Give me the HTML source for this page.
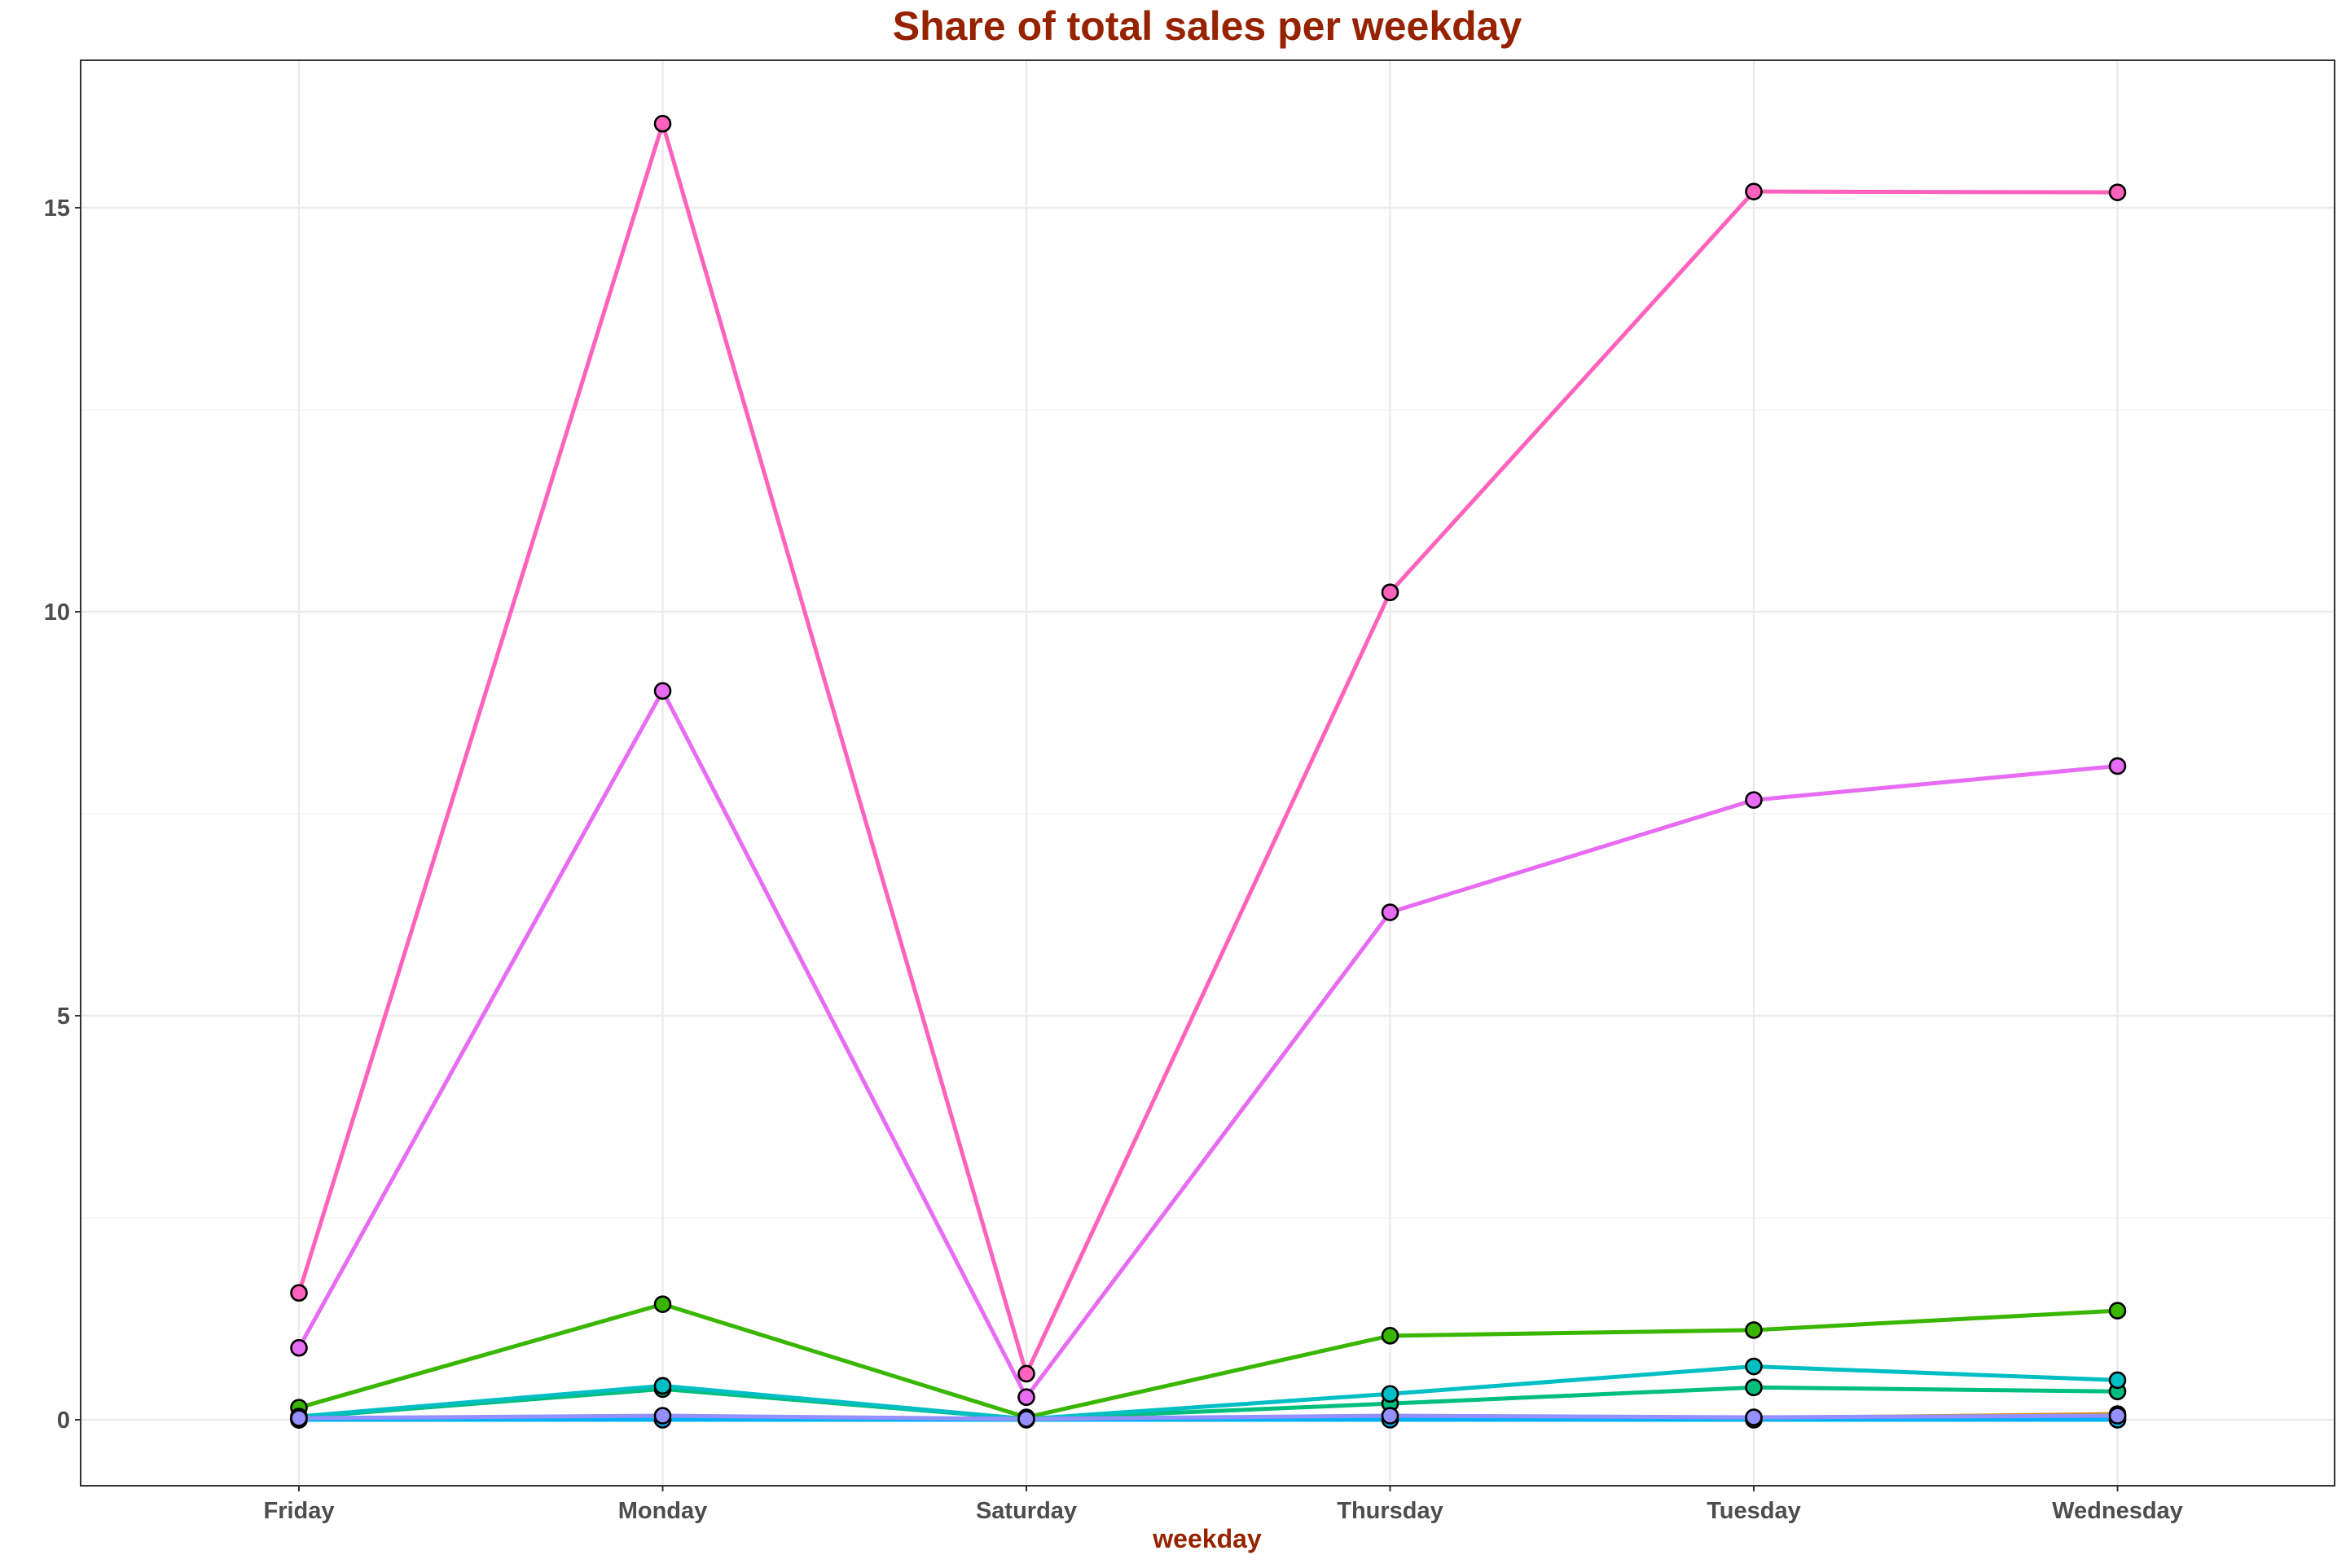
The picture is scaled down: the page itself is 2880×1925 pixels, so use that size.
<!DOCTYPE html>
<html><head><meta charset="utf-8"><style>
html,body{margin:0;padding:0;background:#fff;}
svg text{font-family:"Liberation Sans",Arial,sans-serif;}
</style></head><body>
<svg id="chart" width="2880" height="1920" xmlns="http://www.w3.org/2000/svg">
<rect width="2880" height="1920" fill="#fff"/>
<text x="1482" y="49" text-anchor="middle" font-size="50" font-weight="bold" fill="#962200">Share of total sales per weekday</text>
<g id="grid"></g>
<g id="series"></g>
<rect x="99" y="74" width="2767" height="1750" fill="none" stroke="#333" stroke-width="2"/>
<g id="axes"></g>
<text x="1482" y="1900" text-anchor="middle" font-size="32" font-weight="bold" fill="#962200">weekday</text>
</svg>
<script>
const categories = ["Friday","Monday","Saturday","Thursday","Tuesday","Wednesday"];
const yTicks = [0,5,10,15];
const yMinor = [2.5,7.5,12.5];
const sOrange = [0,0.03,0.01,0.03,0.02,0.07];
const sOlive = [0,0.02,0.01,0.02,0.02,0.03];
const sGreen = [0.15,1.43,0.03,1.04,1.11,1.35];
const sSea = [0.03,0.38,0.01,0.2,0.4,0.35];
const sTeal = [0.04,0.42,0.01,0.32,0.66,0.49];
const sBlue = [0,0,0,0,0,0];
const sLavender = [0.02,0.05,0.01,0.05,0.03,0.05];
const sMagenta = [0.89,9.02,0.28,6.28,7.67,8.09];
const sPink = [1.57,16.04,0.57,10.24,15.2,15.19];
const seriesList = [
  {name:"orange",c:"#D89000",v:sOrange},
  {name:"olive",c:"#A3A500",v:sOlive},
  {name:"green",c:"#39B600",v:sGreen},
  {name:"sea-green",c:"#00BF7D",v:sSea},
  {name:"teal",c:"#00BFC4",v:sTeal},
  {name:"blue",c:"#00B0F6",v:sBlue},
  {name:"lavender",c:"#9590FF",v:sLavender},
  {name:"magenta",c:"#E76BF3",v:sMagenta},
  {name:"pink",c:"#FF62BC",v:sPink}
];
const NS="http://www.w3.org/2000/svg";
function xPos(i){return 367+i*446.5;}
function yPos(v){return 1743-v*(1743-255)/15;}
function mk(tag,attrs,parent){const e=document.createElementNS(NS,tag);for(const k in attrs)e.setAttribute(k,attrs[k]);parent.appendChild(e);return e;}
const grid=document.getElementById('grid'),axes=document.getElementById('axes'),ser=document.getElementById('series');
yMinor.forEach(t=>{const l=mk('line',{x1:99,x2:2866,y1:yPos(t),y2:yPos(t),stroke:'#F2F2F2','stroke-width':1.2},grid);

});
yTicks.forEach(t=>{const l=mk('line',{x1:99,x2:2866,y1:yPos(t),y2:yPos(t),stroke:'#EBEBEB','stroke-width':2.4},grid);


const tk=mk('line',{x1:92,x2:99,y1:yPos(t),y2:yPos(t),stroke:'#333','stroke-width':2},axes);


const tx=mk('text',{x:86,y:yPos(t)+10,'text-anchor':'end','font-size':29,'font-weight':'bold',fill:'#4D4D4D'},axes);tx.textContent=t;

});
categories.forEach((c,i)=>{const l=mk('line',{x1:xPos(i),x2:xPos(i),y1:74,y2:1824,stroke:'#EBEBEB','stroke-width':2.4},grid);


const tk=mk('line',{x1:xPos(i),x2:xPos(i),y1:1824,y2:1831,stroke:'#333','stroke-width':2},axes);


const tx=mk('text',{x:xPos(i),y:1864,'text-anchor':'middle','font-size':29,'font-weight':'bold',fill:'#4D4D4D'},axes);tx.textContent=c;

});
seriesList.forEach(s=>{const g=mk('g',{},ser);


const pts=s.v.map((v,i)=>xPos(i)+','+yPos(v)).join(' ');
const pl=mk('polyline',{points:pts,fill:'none',stroke:s.c,'stroke-width':5,'stroke-linejoin':'round'},g);


s.v.forEach((v,i)=>{const c=mk('circle',{cx:xPos(i),cy:yPos(v),r:9.5,fill:s.c,stroke:'#000','stroke-width':2.6},g);

});});
</script>
</body></html>
